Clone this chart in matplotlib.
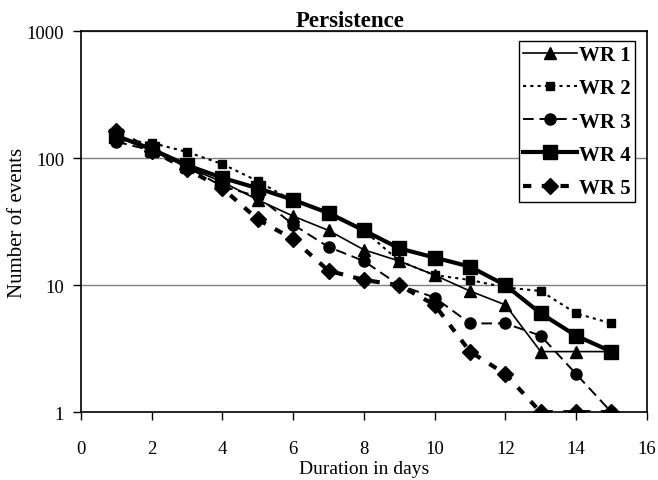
import matplotlib
matplotlib.use("Agg")
import matplotlib.pyplot as plt
from matplotlib.ticker import FixedLocator, NullLocator, FuncFormatter

plt.rcParams["font.family"] = ["Liberation Serif", "DejaVu Serif"]

days = [1, 2, 3, 4, 5, 6, 7, 8, 9, 10, 11, 12, 13, 14, 15]

wr1 = [150, 115, 85, 65, 47, 35, 27, 19, 15.5, 12, 9, 7, 3, 3, 3]
wr2 = [140, 132, 112, 90, 66, 46, 38, 27, 15.5, 12, 11, 9.6, 9, 6, 5]
wr3 = [135, 115, 85, 60, 50, 30, 20, 15.5, 10, 8, 5, 5, 4, 2, 1]
wr4 = [150, 118, 88, 70, 58, 47, 37, 27, 19.5, 16.5, 14, 10, 6, 4, 3]
wr5 = [165, 115, 82, 58, 33, 23, 13, 11, 10, 7, 3, 2, 1, 1, 1]

series_names = ["WR 1", "WR 2", "WR 3", "WR 4", "WR 5"]
x_ticks = list(range(0, 17, 2))
y_ticks = [1, 10, 100, 1000]

fig = plt.figure(figsize=(6.58, 4.81), dpi=100)
ax = fig.add_axes([0.123, 0.141, 0.860, 0.792])

ax.plot(days, wr1, color="black", linestyle="-", linewidth=1.2,
        marker="^", markersize=8.5, label=series_names[0])
ax.plot(days, wr2, color="black", linestyle=(0, (1.5, 2)), linewidth=1.5,
        marker="s", markersize=6, label=series_names[1])
ax.plot(days, wr3, color="black", linestyle=(0, (5.5, 3)), linewidth=1.4,
        marker="o", markersize=8, label=series_names[2])
ax.plot(days, wr4, color="black", linestyle="-", linewidth=3,
        marker="s", markersize=9.5, label=series_names[3])
ax.plot(days, wr5, color="black", linestyle=(0, (2, 2.5)), linewidth=3,
        marker="D", markersize=8, label=series_names[4])

ax.set_yscale("log")
ax.set_xlim(0, 16)
ax.set_ylim(1, 1000)
ax.xaxis.set_major_locator(FixedLocator(x_ticks))
ax.yaxis.set_major_locator(FixedLocator(y_ticks))
ax.yaxis.set_minor_locator(NullLocator())
ax.yaxis.set_major_formatter(FuncFormatter(lambda v, p: f"{int(v)}"))
ax.tick_params(direction="out", length=6, width=1, labelsize=13.5,
               colors="black")
ax.tick_params(axis="x", pad=14)
ax.tick_params(axis="y", pad=6)
ax.grid(axis="y", color="#808080", linewidth=1)
ax.set_axisbelow(True)
for spine in ax.spines.values():
    spine.set_linewidth(1.2)

ax.set_title("Persistence", fontsize=16.5, fontweight="bold", pad=4, x=0.475)
ax.set_xlabel("Duration in days", fontsize=14, labelpad=2)
ax.set_ylabel("Number of events", fontsize=15, labelpad=0)

legend = ax.legend(loc="upper right", frameon=True, fancybox=False,
                   edgecolor="black", framealpha=1, handlelength=2.6,
                   borderpad=0.2, labelspacing=0.63, handletextpad=0.1,
                   borderaxespad=0,
                   prop={"size": 15, "weight": "bold"},
                   bbox_to_anchor=(0.979, 0.974))
legend.get_frame().set_linewidth(1)

fig.savefig("out.png", dpi=100)
